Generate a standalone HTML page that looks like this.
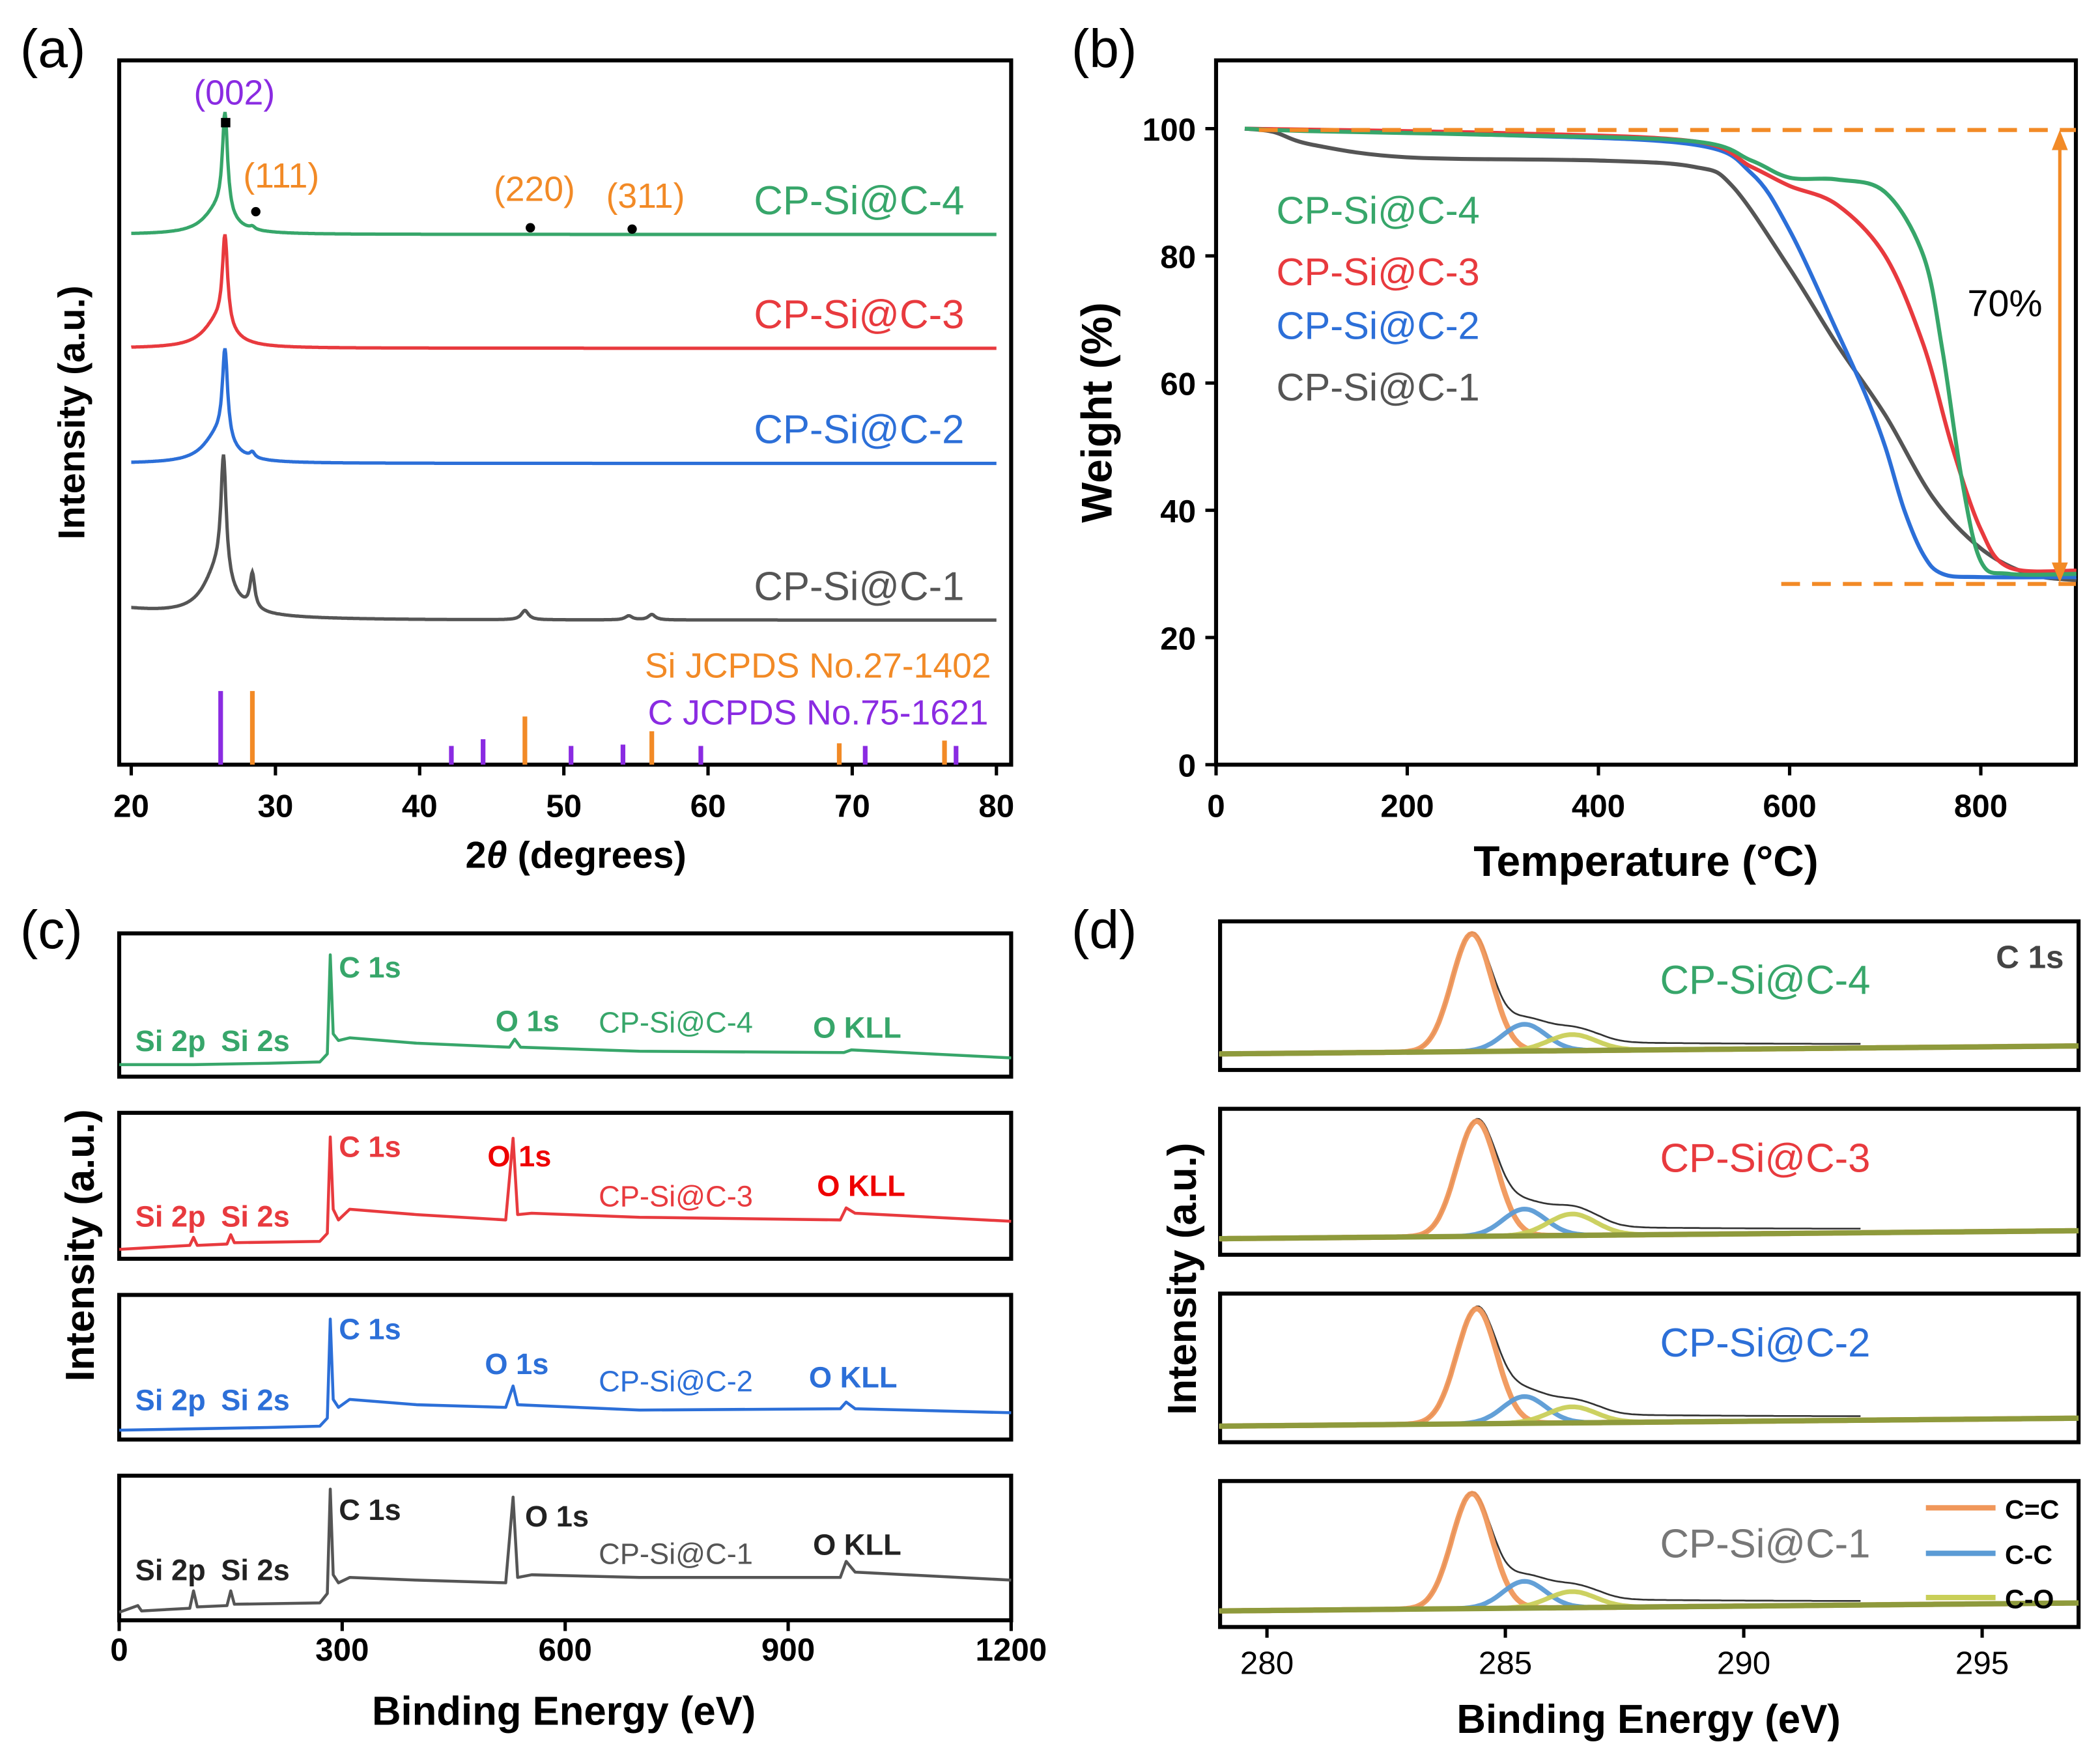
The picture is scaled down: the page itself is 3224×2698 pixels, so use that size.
<!DOCTYPE html>
<html><head><meta charset="utf-8"><style>
html,body{margin:0;padding:0;background:#fff}
svg{display:block}
text{font-family:"Liberation Sans","DejaVu Sans",sans-serif}
</style></head><body>
<svg id="fig" xmlns="http://www.w3.org/2000/svg" width="3224" height="2698" viewBox="0 0 1568 1312">
<rect width="1568" height="1312" fill="#fff"/>
</svg>
<script>
// ---------- data ----------
// (a) XRD
const xrdSeries = ["CP-Si@C-4","CP-Si@C-3","CP-Si@C-2","CP-Si@C-1"];
const xrdBaseline = [175, 260, 346, 463];
const xrdPeaks4 = [[26.5,76,0.22],[26.0,18,1.2],[28.4,2,0.2]];
const xrdPeaks3 = [[26.5,68,0.22],[26.0,20,1.2]];
const xrdPeaks2 = [[26.5,68,0.22],[26.0,21,1.2],[28.4,4,0.2]];
const xrdPeaks1 = [[26.4,90,0.22],[26.0,34,1.2],[28.4,26,0.2],[47.3,7,0.3],[54.5,3,0.3],[56.1,4,0.3]];
const xrdTicks = [20,30,40,50,60,70,80];
const siRefPos = [28.4,47.3,56.1,69.1,76.4];
const siRefHeight = [55,36,25,16,18];
const cRefPos = [26.2,42.2,44.4,50.5,54.1,59.5,70.9,77.2];
const cRefHeight = [55,14,19,14,15,14,14,14];
// (b) TGA
const tgaSeries = ["CP-Si@C-4","CP-Si@C-3","CP-Si@C-2","CP-Si@C-1"];
const tgaT4 = [30,100,300,500,560,600,650,700,740,760,780,800,830,900];
const tgaW4 = [100,99.6,99,98,95,92.3,92,90,80,65,45,32,30,30];
const tgaT3 = [30,300,500,560,600,650,700,740,770,800,830,900];
const tgaW3 = [100,99.3,98,94,91,88,80,66,50,37,31,30.5];
const tgaT2 = [30,300,500,560,600,650,680,700,720,740,760,800,900];
const tgaW2 = [100,99,97.5,93,84,68,58,50,40,33,30,29.5,29.5];
const tgaT1 = [30,60,100,200,400,500,540,600,650,700,750,800,850,900];
const tgaW1 = [100,99.5,97.5,95.5,95,94,91,78,66,55,42,34,30,29];
const tgaXTicks = [0,200,400,600,800];
const tgaYTicks = [0,20,40,60,80,100];
// (c) XPS survey: [eV, intensity offset px from box top]
const surveyE4 = [0,100,200,270,280,284,288,295,310,400,525,532,540,700,975,985,1200];
const surveyI4 = [98,98,97,96,90,16,75,80,78,82,85,79,85,88,89,87,93];
const surveyE3 = [0,95,100,105,145,150,155,270,280,284,288,295,310,400,520,530,536,555,700,970,978,990,1200];
const surveyI3 = [102,99,93,99,98,91,97,96,90,18,72,80,72,76,80,19,76,75,78,80,71,75,81];
const surveyE2 = [0,100,200,270,280,284,288,295,310,400,520,530,536,700,970,978,990,1200];
const surveyI2 = [101,100,99,98,92,18,78,84,78,82,84,68,82,86,85,80,85,88];
const surveyE1 = [0,25,30,95,100,105,145,150,155,270,280,284,288,295,310,400,520,530,536,555,700,970,978,990,1200];
const surveyI1 = [102,97,101,99,86,98,97,86,96,95,88,10,74,80,76,78,80,16,76,74,76,76,64,72,78];
const surveyTicks = [0,300,600,900,1200];
// (d) C 1s fits: [center eV, height px, sigma eV] for C=C, C-C, C-O
const c1sCC = [[284.3,88,0.42],[284.4,86,0.42],[284.4,86,0.42],[284.3,86,0.42]];
const c1sCCs = [[285.4,20,0.45],[285.4,20,0.45],[285.4,20,0.45],[285.4,20,0.45]];
const c1sCO = [[286.4,12,0.5],[286.4,16,0.5],[286.4,12,0.5],[286.4,12,0.5]];
const c1sTicks = [280,285,290,295];

// ---------- helpers ----------
const NS="http://www.w3.org/2000/svg";
const svg=document.getElementById('fig');
function el(tag,attrs,parent,txt){const e=document.createElementNS(NS,tag);for(const k in attrs)e.setAttribute(k,attrs[k]);if(txt!==undefined)e.textContent=txt;(parent||svg).appendChild(e);return e;}
const GREEN="#37a66a",RED="#e83a3e",BLUE="#2c6fd8",GRAY="#555555",ORANGE="#f28a26",PURPLE="#8a2be2";
const seriesColors=[GREEN,RED,BLUE,GRAY];

// ---------- panel a ----------
const ga=el('g',{});

const axA={x0:89,x1:755,y0:45,y1:571};
function xA(v){return 98+(v-20)*(744-98)/60;}
el('rect',{x:axA.x0,y:axA.y0,width:axA.x1-axA.x0,height:axA.y1-axA.y0,fill:'none',stroke:'#000','stroke-width':3},ga);
xrdTicks.forEach(t=>{const l=el('line',{x1:xA(t),x2:xA(t),y1:571,y2:579,stroke:'#000','stroke-width':2.5},ga);
 const tx=el('text',{x:xA(t),y:610,'font-size':24,'font-weight':'bold','text-anchor':'middle'},ga,String(t));});
const xla=el('text',{x:430,y:648,'font-size':28,'font-weight':'bold','text-anchor':'middle'},ga);

el('tspan',{},xla,'2');el('tspan',{'font-style':'italic'},xla,'θ');el('tspan',{},xla,' (degrees)');
const yla=el('text',{x:0,y:0,'font-size':28,'font-weight':'bold','text-anchor':'middle',transform:'translate(63,308) rotate(-90)'},ga,'Intensity (a.u.)');

el('text',{x:15,y:50,'font-size':40},ga,'(a)');
const xrdPeaks=[xrdPeaks4,xrdPeaks3,xrdPeaks2,xrdPeaks1];
xrdSeries.forEach((name,i)=>{let d='';for(let v=20;v<=80;v+=0.05){let y=xrdBaseline[i];if(i===3)y-=8*Math.exp(-(v-20)/6);
 xrdPeaks[i].forEach(p=>{y-=p[1]/(1+Math.pow((v-p[0])/p[2],2));});d+=(d?'L':'M')+xA(v).toFixed(1)+','+y.toFixed(1);}
 const p=el('path',{d:d,fill:'none',stroke:seriesColors[i],'stroke-width':2.5},ga);
 const lb=el('text',{x:720,y:xrdBaseline[i]-15,'font-size':30,fill:seriesColors[i],'text-anchor':'end'},ga,name);});
siRefPos.forEach((v,i)=>{const l=el('line',{x1:xA(v),x2:xA(v),y1:571,y2:571-siRefHeight[i],stroke:ORANGE,'stroke-width':3.5},ga);});
cRefPos.forEach((v,i)=>{const l=el('line',{x1:xA(v),x2:xA(v),y1:571,y2:571-cRefHeight[i],stroke:PURPLE,'stroke-width':3.5},ga);});
el('text',{x:740,y:506,'font-size':26,fill:ORANGE,'text-anchor':'end'},ga,'Si JCPDS No.27-1402');
el('text',{x:738,y:541,'font-size':26,fill:PURPLE,'text-anchor':'end'},ga,'C JCPDS No.75-1621');
el('text',{x:175,y:78,'font-size':26,fill:PURPLE,'text-anchor':'middle'},ga,'(002)');
el('rect',{x:165,y:88,width:7,height:7,fill:'#000'},ga);
el('text',{x:210,y:140,'font-size':26,fill:ORANGE,'text-anchor':'middle'},ga,'(111)');
el('circle',{cx:191,cy:158,r:3.5,fill:'#000'},ga);
el('text',{x:399,y:150,'font-size':26,fill:ORANGE,'text-anchor':'middle'},ga,'(220)');
el('circle',{cx:396,cy:170,r:3.5,fill:'#000'},ga);
el('text',{x:482,y:155,'font-size':26,fill:ORANGE,'text-anchor':'middle'},ga,'(311)');
el('circle',{cx:472,cy:171,r:3.5,fill:'#000'},ga);

// ---------- panel b ----------
const gb=el('g',{});

function xB(t){return 908+t*(1479-908)/800;}
function yB(w){return 571-w*4.75;}
el('rect',{x:908,y:45,width:642,height:526,fill:'none',stroke:'#000','stroke-width':3},gb);
tgaXTicks.forEach(t=>{el('line',{x1:xB(t),x2:xB(t),y1:571,y2:579,stroke:'#000','stroke-width':2.5},gb);
 const tx=el('text',{x:xB(t),y:610,'font-size':24,'font-weight':'bold','text-anchor':'middle'},gb,String(t));});
tgaYTicks.forEach(t=>{el('line',{x1:900,x2:908,y1:yB(t),y2:yB(t),stroke:'#000','stroke-width':2.5},gb);
 const tx=el('text',{x:893,y:yB(t)+9,'font-size':24,'font-weight':'bold','text-anchor':'end'},gb,String(t));});
const xlb=el('text',{x:1229,y:654,'font-size':32,'font-weight':'bold','text-anchor':'middle'},gb,'Temperature (°C)');

const ylb=el('text',{x:0,y:0,'font-size':32,'font-weight':'bold','text-anchor':'middle',transform:'translate(830,308) rotate(-90)'},gb,'Weight (%)');

el('text',{x:800,y:50,'font-size':40},gb,'(b)');
const tgaT=[tgaT4,tgaT3,tgaT2,tgaT1],tgaW=[tgaW4,tgaW3,tgaW2,tgaW1];
function smooth(pts){let d='M'+pts[0][0]+','+pts[0][1];for(let i=0;i<pts.length-1;i++){const p0=pts[Math.max(0,i-1)],p1=pts[i],p2=pts[i+1],p3=pts[Math.min(pts.length-1,i+2)];
 const c1x=p1[0]+(p2[0]-p0[0])/6,c1y=p1[1]+(p2[1]-p0[1])/6,c2x=p2[0]-(p3[0]-p1[0])/6,c2y=p2[1]-(p3[1]-p1[1])/6;
 d+='C'+c1x.toFixed(1)+','+c1y.toFixed(1)+' '+c2x.toFixed(1)+','+c2y.toFixed(1)+' '+p2[0].toFixed(1)+','+p2[1].toFixed(1);}return d;}
[3,2,1,0].forEach(i=>{const pts=tgaT[i].map((t,k)=>[xB(t),yB(tgaW[i][k])]);
 const p=el('path',{d:smooth(pts),fill:'none',stroke:seriesColors[i],'stroke-width':3},gb);});
const legY=[157,203,243,289];
tgaSeries.forEach((n,i)=>{const t=el('text',{x:953,y:legY[i]+10,'font-size':29,fill:seriesColors[i]},gb,n);});
el('line',{x1:940,x2:1550,y1:yB(100)+1,y2:yB(100)+1,stroke:ORANGE,'stroke-width':3,'stroke-dasharray':'14,9'},gb);
el('line',{x1:1330,x2:1550,y1:436,y2:436,stroke:ORANGE,'stroke-width':3,'stroke-dasharray':'14,9'},gb);
el('line',{x1:1538,x2:1538,y1:108,y2:424,stroke:ORANGE,'stroke-width':2.5},gb);
el('polygon',{points:'1538,97 1532,112 1544,112',fill:ORANGE},gb);
el('polygon',{points:'1538,435 1532,420 1544,420',fill:ORANGE},gb);
el('text',{x:1497,y:236,'font-size':28,'text-anchor':'middle'},gb,'70%');

// ---------- panel c ----------
const gc=el('g',{});

function xC(e){return 89+e*(755-89)/1200;}
const boxC=[697,831,967,1102],boxCh=[107,109,108,108];
const survE=[surveyE4,surveyE3,surveyE2,surveyE1],survI=[surveyI4,surveyI3,surveyI2,surveyI1];
el('text',{x:15,y:708,'font-size':40},gc,'(c)');
boxC.forEach((top,i)=>{el('rect',{x:89,y:top,width:666,height:boxCh[i],fill:'none',stroke:'#000','stroke-width':3},gc);
 const d=survE[i].map((e,k)=>(k?'L':'M')+xC(e).toFixed(1)+','+(top+survI[i][k]).toFixed(1)).join('');
 const p=el('path',{d:d,fill:'none',stroke:seriesColors[i],'stroke-width':2.2,'stroke-linejoin':'round'},gc);
 const c=i===3?'#222':seriesColors[i];const lab=i===1?'#e00':c;
 el('text',{x:101,y:top+[88,85,86,78][i],'font-size':22,'font-weight':'bold',fill:c},gc,'Si 2p');
 el('text',{x:165,y:top+[88,85,86,78][i],'font-size':22,'font-weight':'bold',fill:c},gc,'Si 2s');
 el('text',{x:253,y:top+33,'font-size':22,'font-weight':'bold',fill:c},gc,'C 1s');
 el('text',{x:[370,364,362,392][i],y:top+[73,40,59,38][i],'font-size':22,'font-weight':'bold',fill:lab},gc,'O 1s');
 el('text',{x:[607,610,604,607][i],y:top+[78,62,69,59][i],'font-size':22,'font-weight':'bold',fill:lab},gc,'O KLL');
 el('text',{x:447,y:top+[74,70,72,66][i],'font-size':22,fill:i===3?GRAY:seriesColors[i]},gc,xrdSeries[i]);});
surveyTicks.forEach(t=>{el('line',{x1:xC(t),x2:xC(t),y1:1210,y2:1218,stroke:'#000','stroke-width':2.5},gc);
 const tx=el('text',{x:xC(t),y:1240,'font-size':24,'font-weight':'bold','text-anchor':'middle'},gc,String(t));});
const xlc=el('text',{x:421,y:1288,'font-size':30,'font-weight':'bold','text-anchor':'middle'},gc,'Binding Energy (eV)');

const ylc=el('text',{x:0,y:0,'font-size':30,'font-weight':'bold','text-anchor':'middle',transform:'translate(70,930) rotate(-90)'},gc,'Intensity (a.u.)');


// ---------- panel d ----------
const gd=el('g',{});

function xD(e){return 946+(e-280)*(1480-946)/15;}
const boxD=[688,828,966,1106],boxDh=[111,109,111,109];
el('text',{x:800,y:708,'font-size':40},gd,'(d)');
const fits=[c1sCC,c1sCCs,c1sCO];const fitCols=['#f0975a','#5b9bd5','#c9cf58'];
function g(e,p){return p[1]*Math.exp(-0.5*Math.pow((e-p[0])/p[2],2));}
boxD.forEach((top,i)=>{el('rect',{x:911,y:top,width:641,height:boxDh[i],fill:'none',stroke:'#000','stroke-width':3},gd);
 const base=e=>top+boxDh[i]-12-(e-279)*0.33;
 const tail=e=>e>285?6*Math.min(1,(e-285)/2)*Math.exp(-(e-287)/8):0;
 let env='';for(let e=279.5;e<=292.5;e+=0.05){const y=base(e)-g(e,fits[0][i])-g(e,fits[1][i])-g(e,fits[2][i])-tail(e);env+=(env?'L':'M')+xD(e).toFixed(1)+','+y.toFixed(1);}
 el('path',{d:env,fill:'none',stroke:'#333','stroke-width':1.3},gd);
 fits.forEach((arr,k)=>{let d='';for(let e=279;e<=297;e+=0.05){const y=base(e)-g(e,arr[i]);d+=(d?'L':'M')+xD(e).toFixed(1)+','+y.toFixed(1);}
  const p=el('path',{d:d,fill:'none',stroke:fitCols[k],'stroke-width':k===0?4:3.5,opacity:0.95},gd);});
 const bl=el('line',{x1:911,x2:1552,y1:base(279),y2:base(297),stroke:'#8e9a3c','stroke-width':4},gd);
 el('text',{x:1318,y:top+[54,47,47,57][i],'font-size':30,fill:i===3?'#777':seriesColors[i],'text-anchor':'middle'},gd,xrdSeries[i]);});
el('text',{x:1541,y:723,'font-size':24,'font-weight':'bold',fill:'#444','text-anchor':'end'},gd,'C 1s');
const dl=[['C=C',fitCols[0],1126],['C-C',fitCols[1],1160],['C-O',fitCols[2],1193]];
dl.forEach(l=>{const ln=el('line',{x1:1438,x2:1490,y1:l[2],y2:l[2],stroke:l[1],'stroke-width':4},gd);
 const t=el('text',{x:1497,y:l[2]+8,'font-size':20,'font-weight':'bold'},gd,l[0]);});
c1sTicks.forEach(t=>{el('line',{x1:xD(t),x2:xD(t),y1:1215,y2:1223,stroke:'#000','stroke-width':2.5},gd);
 const tx=el('text',{x:xD(t),y:1250,'font-size':24,'font-family':'Liberation Serif','text-anchor':'middle'},gd,String(t));});
const xld=el('text',{x:1231,y:1294,'font-size':30,'font-weight':'bold','text-anchor':'middle'},gd,'Binding Energy (eV)');

const yld=el('text',{x:0,y:0,'font-size':30,'font-weight':'bold','text-anchor':'middle',transform:'translate(893,955) rotate(-90)'},gd,'Intensity (a.u.)');

</script>
</body></html>
